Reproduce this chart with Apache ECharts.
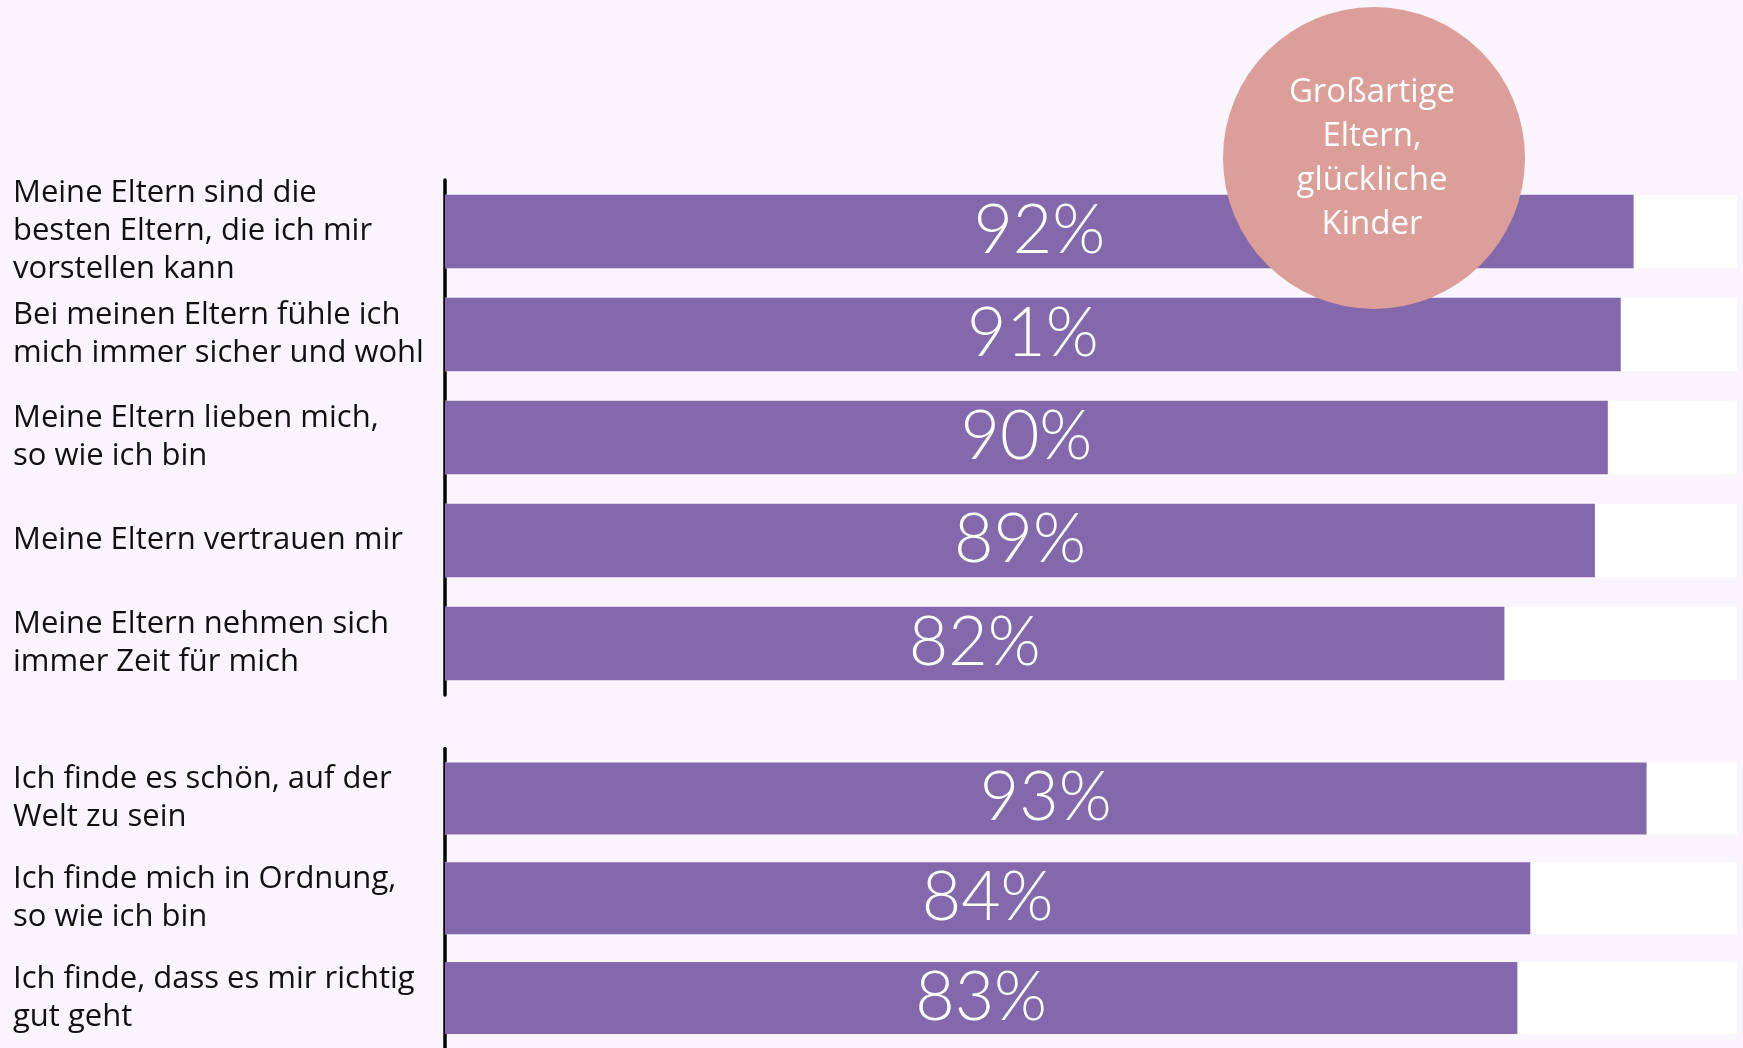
<!DOCTYPE html>
<html>
<head>
<meta charset="utf-8">
<script src="https://cdn.jsdelivr.net/npm/echarts@6/dist/echarts.min.js"></script>
<style>
  html, body { margin: 0; padding: 0; background: #f9f4fd; }
  #chart { width: 1743px; height: 1048px; }
</style>
</head>
<body>
<div id="chart"></div>
<script>
// Eltern-Fragen (oben) und Selbstbild (unten)
var parentCategories = [
  'Meine Eltern sind die\nbesten Eltern, die ich mir\nvorstellen kann',
  'Bei meinen Eltern fühle ich\nmich immer sicher und wohl',
  'Meine Eltern lieben mich,\nso wie ich bin',
  'Meine Eltern vertrauen mir',
  'Meine Eltern nehmen sich\nimmer Zeit für mich'
];
var parentValues = [92, 91, 90, 89, 82];

var selfCategories = [
  'Ich finde es schön, auf der\nWelt zu sein',
  'Ich finde mich in Ordnung,\nso wie ich bin',
  'Ich finde, dass es mir richtig\ngut geht'
];
var selfValues = [93, 84, 83];

var badgeText = 'Großartige\nEltern,\nglückliche\nKinder';

var chart = echarts.init(document.getElementById('chart'));

var labelFont = '"Open Sans", Lato, sans-serif';
var numberFont = 'Lato, sans-serif';

function yAxisFor(idx, cats) {
  return {
    type: 'category',
    gridIndex: idx,
    data: cats,
    inverse: true,
    offset: 2,
    axisLine: { show: true, lineStyle: { color: '#000', width: 3.5 } },
    axisTick: { show: false },
    axisLabel: {
      align: 'left',
      margin: 430,
      color: '#111',
      fontFamily: labelFont,
      fontSize: 31,
      lineHeight: 38,
      padding: [8, 0, 0, 0]
    }
  };
}

function barSeries(idx, values, width) {
  return {
    type: 'bar',
    xAxisIndex: idx,
    yAxisIndex: idx,
    data: values,
    barWidth: width,
    showBackground: true,
    backgroundStyle: { color: '#ffffff' },
    itemStyle: { color: '#8468ac' },
    label: {
      show: true,
      position: 'inside',
      formatter: '{c}%',
      color: '#fff',
      fontFamily: numberFont,
      fontWeight: 300,
      fontSize: 68
    },
    silent: true
  };
}

chart.setOption({
  backgroundColor: '#f9f4fd',
  animation: false,
  grid: [
    { left: 445, width: 1292, top: 180, height: 515 },
    { left: 445, width: 1292, top: 748.5, height: 303 }
  ],
  xAxis: [
    { type: 'value', gridIndex: 0, min: 0, max: 100, show: false },
    { type: 'value', gridIndex: 1, min: 0, max: 100, show: false }
  ],
  yAxis: [yAxisFor(0, parentCategories), yAxisFor(1, selfCategories)],
  series: [barSeries(0, parentValues, 73.5), barSeries(1, selfValues, 72)],
  graphic: [
    {
      type: 'circle',
      z: 100,
      shape: { cx: 1374, cy: 158, r: 151 },
      style: { fill: '#dc9e98' }
    },
    {
      type: 'text',
      z: 101,
      x: 1372,
      y: 159,
      style: {
        text: badgeText,
        fill: '#fff',
        font: '33px ' + labelFont,
        lineHeight: 44,
        align: 'center',
        verticalAlign: 'middle'
      }
    }
  ]
});
</script>
</body>
</html>
